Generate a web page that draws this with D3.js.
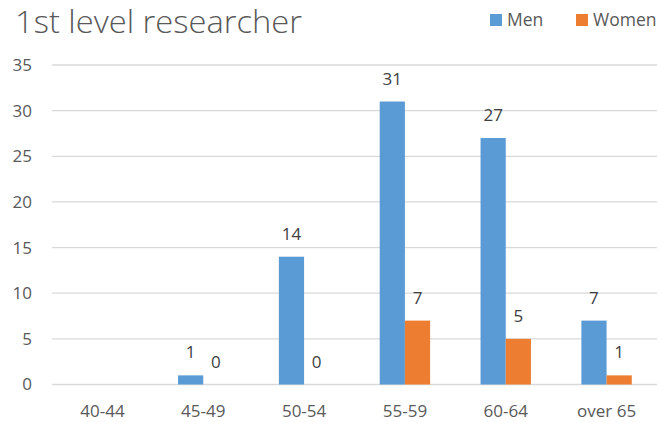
<!DOCTYPE html>
<html>
<head>
<meta charset="utf-8">
<script src="https://cdn.jsdelivr.net/npm/d3@7"></script>
<style>
  html, body { margin: 0; padding: 0; background: #ffffff; }
  svg { display: block; }
</style>
</head>
<body>
<svg id="chart" width="662" height="422"></svg>
<script>
// Age groups and head counts per group
const categories = ["40-44", "45-49", "50-54", "55-59", "60-64", "over 65"];
const seriesNames = ["Men", "Women"];
const men   = [null, 1, 14, 31, 27, 7];
const women = [null, 0, 0, 7, 5, 1];
const yTicks = [0, 5, 10, 15, 20, 25, 30, 35];
const colors = ["#5B9BD5", "#ED7D31"];

const FONT = "'Open Sans', 'Noto Sans', sans-serif";
const svg = d3.select("#chart");

const plot = { left: 52, right: 657, top: 65, bottom: 384.5 };

const x = d3.scaleBand()
  .domain(categories)
  .range([plot.left, plot.right])
  .paddingInner(0.5)
  .paddingOuter(0.25);

const xSub = d3.scaleBand()
  .domain(seriesNames)
  .range([0, x.bandwidth()]);

const y = d3.scaleLinear()
  .domain([0, 35])
  .range([plot.bottom, plot.top]);

// Horizontal gridlines
svg.append("g")
  .selectAll("line")
  .data(yTicks)
  .join("line")
  .attr("x1", plot.left)
  .attr("x2", plot.right)
  .attr("y1", d => y(d))
  .attr("y2", d => y(d))
  .attr("stroke", "#D9D9D9")
  .attr("stroke-width", 1.3);

// Y axis labels
const yAxis = svg.append("g")
  .attr("transform", `translate(${plot.left - 20},0)`)
  .call(d3.axisLeft(y).tickValues(yTicks).tickSize(0).tickPadding(0));
yAxis.select(".domain").remove();
yAxis.selectAll("text")
  .attr("font-family", FONT)
  .attr("font-size", 17)
  .attr("fill", "#595959");

// X axis labels
const xAxis = svg.append("g")
  .attr("transform", `translate(0,${plot.bottom})`)
  .call(d3.axisBottom(x).tickSize(0).tickPadding(20));
xAxis.select(".domain").remove();
xAxis.selectAll("text")
  .attr("font-family", FONT)
  .attr("font-size", 17)
  .attr("fill", "#595959");

// Bars and value labels
const rows = categories.map((c, i) => ({
  category: c,
  values: [
    { name: "Men", value: men[i] },
    { name: "Women", value: women[i] }
  ]
}));

const groups = svg.append("g")
  .selectAll("g")
  .data(rows)
  .join("g")
  .attr("transform", d => `translate(${x(d.category)},0)`);

groups.selectAll("rect")
  .data(d => d.values.filter(v => v.value !== null))
  .join("rect")
  .attr("x", d => xSub(d.name))
  .attr("width", xSub.bandwidth())
  .attr("y", d => y(d.value))
  .attr("height", d => y(0) - y(d.value))
  .attr("fill", d => colors[seriesNames.indexOf(d.name)]);

groups.selectAll("text.value")
  .data(d => d.values.filter(v => v.value !== null))
  .join("text")
  .attr("class", "value")
  .attr("x", d => xSub(d.name) + xSub.bandwidth() / 2)
  .attr("y", d => y(d.value) - 17)
  .attr("text-anchor", "middle")
  .attr("font-family", FONT)
  .attr("font-size", 17)
  .attr("fill", "#404040")
  .text(d => d.value);

// Title
svg.append("text")
  .attr("x", 15)
  .attr("y", 33)
  .attr("font-family", FONT)
  .attr("font-weight", 300)
  .attr("font-size", 32)
  .attr("textLength", 287)
  .attr("lengthAdjust", "spacingAndGlyphs")
  .attr("fill", "#595959")
  .text("1st level researcher");

// Legend
const legendX = [490, 576];
const legend = svg.append("g")
  .selectAll("g")
  .data(seriesNames)
  .join("g")
  .attr("transform", (d, i) => `translate(${legendX[i]},14)`);
legend.append("rect")
  .attr("width", 12)
  .attr("height", 12)
  .attr("fill", (d, i) => colors[i]);
legend.append("text")
  .attr("x", 17)
  .attr("y", 12)
  .attr("font-family", FONT)
  .attr("font-size", 17.5)
  .attr("fill", "#595959")
  .text(d => d);
</script>
</body>
</html>
